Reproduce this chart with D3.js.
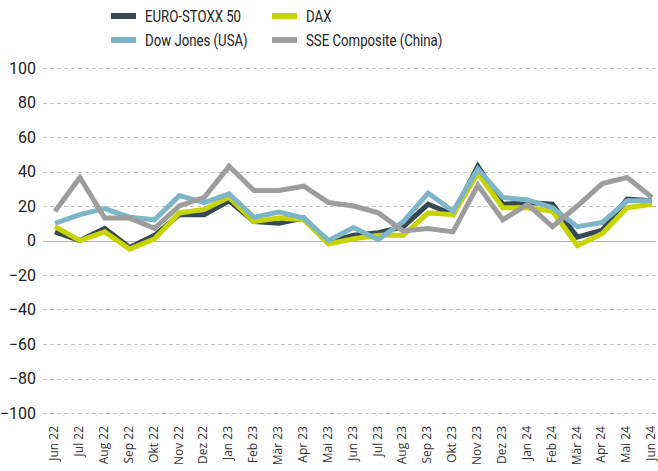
<!DOCTYPE html>
<html><head><meta charset="utf-8">
<script src="https://cdn.jsdelivr.net/npm/d3@7"></script>
<style>
body{margin:0;background:#fff;}
svg{display:block;}
</style></head>
<body>
<svg id="chart" width="658" height="471"></svg>
<script>
const months = ["Jun 22","Jul 22","Aug 22","Sep 22","Okt 22","Nov 22","Dez 22","Jan 23","Feb 23","Mär 23","Apr 23","Mai 23","Jun 23","Jul 23","Aug 23","Sep 23","Okt 23","Nov 23","Dez 23","Jan 24","Feb 24","Mär 24","Apr 24","Mai 24","Jun 24"];
const euroStoxx = [5,0,7,-4,3,15,15,23,11,10,13,-1,3,4.5,8,21,15,43,21,22,21,2,6,24,23];
const dax       = [8,0,5,-5,1,16,18,25,11,13,12,-2,1,3,3,16,15,39,19,19,17,-3,4,19,21];
const dowJones  = [10,15,18.5,13.5,12,26,22,27,13.5,16.5,13,0,7.5,0.5,11,27.5,17,41.5,25,23.5,19,8,10.5,23,23];
const sse       = [17,36.5,13,13,7,20,25,43,29,29,31.5,22,20,16,5.5,7,5,32,12,21,8,20,33,36.5,25];
const seriesNames = ["EURO-STOXX 50","DAX","Dow Jones (USA)","SSE Composite (China)"];
const seriesColors = ["#364852","#c8d400","#7db6c8","#9d9d9d"];
const yTicks = [100,80,60,40,20,0,-20,-40,-60,-80,-100];

const svg = d3.select("#chart");
const x = d3.scalePoint().domain(months).range([55,652]).padding(0);
const y = d3.scaleLinear().domain([-100,100]).range([413,68]);

// grid
const grid = svg.append("g");
grid.selectAll("line").data(yTicks).enter().append("line")
  .attr("x1",43).attr("x2",656)
  .attr("y1",d=>Math.round(y(d))+0.5).attr("y2",d=>Math.round(y(d))+0.5)
  .attr("stroke",d=>d===0?"#b0b0b0":"#c4c4c4")
  .attr("stroke-width",1)
  .attr("stroke-dasharray",d=>d===0?null:"4,3");

// y axis labels
const yAxis = d3.axisLeft(y).tickValues(yTicks).tickSize(0).tickPadding(0);
const yg = svg.append("g").attr("transform","translate(36,0)").call(yAxis);
yg.select(".domain").remove();
yg.selectAll("text").attr("font-family","Roboto, 'Noto Sans', sans-serif").attr("font-size","16px").attr("fill","#222").attr("dy","0.34em");

// x axis labels
const xAxis = d3.axisBottom(x).tickSize(0).tickPadding(0);
const xg = svg.append("g").attr("transform","translate(0,426)").call(xAxis);
xg.select(".domain").remove();
xg.selectAll("text")
  .attr("font-family","'Open Sans', 'Noto Sans', sans-serif").attr("font-size","12px").attr("fill","#333")
  .attr("transform","rotate(-90)")
  .attr("text-anchor","end")
  .attr("x",0).attr("y",0).attr("dx",0).attr("dy","0.22em");

// lines
const allSeries = [euroStoxx, dax, dowJones, sse];
const line = d3.line().x((d,i)=>x(months[i])).y(d=>y(d));
svg.append("g").selectAll("path").data(allSeries).enter().append("path")
  .attr("d",d=>line(d))
  .attr("fill","none")
  .attr("stroke",(d,i)=>seriesColors[i])
  .attr("stroke-width",5)
  .attr("stroke-linejoin","miter");

// legend
const legendPos = [[111,16],[272,16],[111,40],[272,40]];
const lg = svg.append("g");
seriesNames.forEach((n,i)=>{
  const [lx,ly] = legendPos[i];
  lg.append("rect").attr("x",lx).attr("y",ly-3).attr("width",25).attr("height",6).attr("fill",seriesColors[i]);
  lg.append("g").attr("transform",`translate(${lx+34},${ly}) scale(0.8,1)`)
    .append("text").attr("x",0).attr("y",0).attr("dy","0.36em")
    .attr("font-family","Roboto, 'Noto Sans', sans-serif")
    .attr("font-size","16.5px").attr("fill","#222").text(n);
});
</script>
</body></html>
